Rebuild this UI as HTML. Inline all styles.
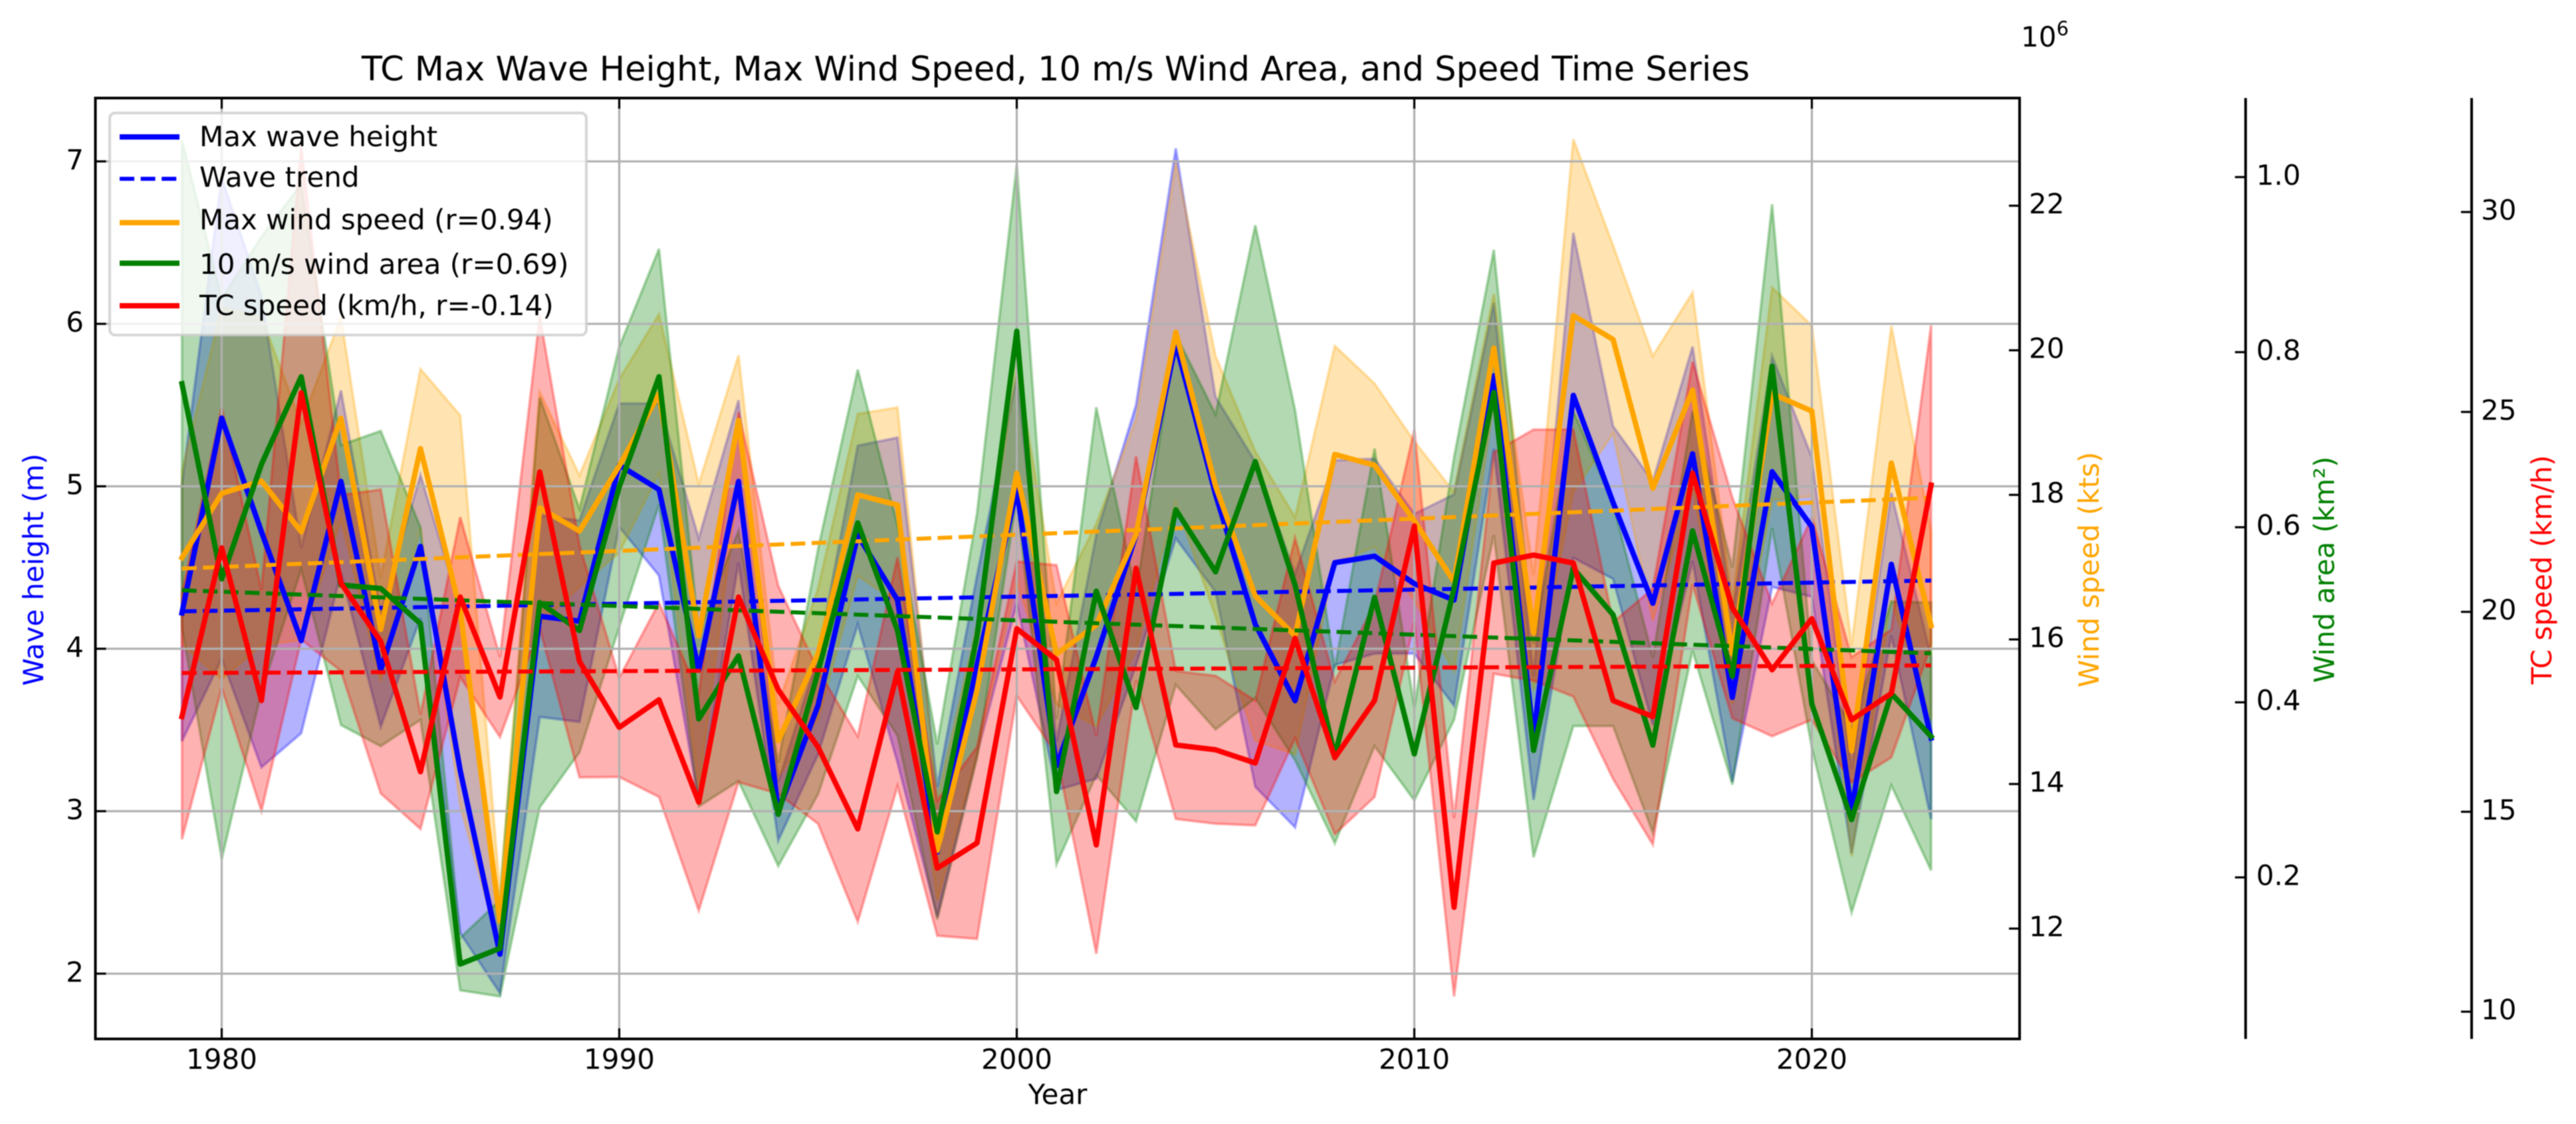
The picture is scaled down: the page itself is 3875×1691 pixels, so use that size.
<!DOCTYPE html>
<html lang="en">
<head>
<meta charset="utf-8">
<title>TC Max Wave Height, Max Wind Speed, 10 m/s Wind Area, and Speed Time Series</title>
<style>
html,body{margin:0;padding:0;background:#fff;}
svg{display:block;filter:blur(0.9px);}
text{font-family:"DejaVu Sans","Liberation Sans",sans-serif;fill:#000;}
</style>
</head>
<body>
<svg id="chart" xmlns="http://www.w3.org/2000/svg" width="3875" height="1691" viewBox="0 0 3875 1691">
  <rect x="0" y="0" width="3875" height="1691" fill="#fff"/>
  <g id="bands"></g>
  <g id="grid"></g>
  <g id="series"></g>
  <g id="axes"></g>
  <text x="1588" y="121" font-size="51" text-anchor="middle">TC Max Wave Height, Max Wind Speed, 10 m/s Wind Area, and Speed Time Series</text>
  <text x="1591" y="1661" font-size="42" text-anchor="middle">Year</text>
  <text transform="translate(65,857) rotate(-90)" font-size="42" text-anchor="middle" style="fill:#0000ff">Wave height (m)</text>
  <text transform="translate(3157,857) rotate(-90)" font-size="42" text-anchor="middle" style="fill:#ffa500">Wind speed (kts)</text>
  <text transform="translate(3511,857) rotate(-90)" font-size="42" text-anchor="middle" style="fill:#008000">Wind area (km²)</text>
  <text transform="translate(3838,857) rotate(-90)" font-size="42" text-anchor="middle" style="fill:#ff0000">TC speed (km/h)</text>
  <text x="3040" y="70" font-size="42">10<tspan dy="-17" font-size="29">6</tspan></text>
  <g>
    <rect x="165" y="170" width="717" height="334" rx="8" ry="8" fill="#fff" fill-opacity="0.8" stroke="#cccccc" stroke-opacity="0.8" stroke-width="4"/>
    <line x1="180" x2="270" y1="206" y2="206" stroke="#0000ff" stroke-width="8"/>
    <text x="300" y="220" font-size="42">Max wave height</text>
    <line x1="180" x2="270" y1="269" y2="269" stroke="#0000ff" stroke-width="6" stroke-dasharray="22 9.6"/>
    <text x="300" y="281" font-size="42">Wave trend</text>
    <line x1="180" x2="270" y1="335" y2="335" stroke="#ffa500" stroke-width="8"/>
    <text x="300" y="345" font-size="42">Max wind speed (r=0.94)</text>
    <line x1="180" x2="270" y1="396" y2="396" stroke="#008000" stroke-width="8"/>
    <text x="300" y="412" font-size="42">10 m/s wind area (r=0.69)</text>
    <line x1="180" x2="270" y1="460" y2="460" stroke="#ff0000" stroke-width="8"/>
    <text x="300" y="474" font-size="42">TC speed (km/h, r=-0.14)</text>
  </g>
</svg>
<script>
const firstYear = 1979;
const yearCount = 45;
const trendYears = [1979, 2023];

const waveMean = [4.22,5.42,4.72,4.05,5.03,3.87,4.63,3.25,2.12,4.2,4.17,5.13,4.98,3.87,5.03,3.0,3.65,4.7,4.3,2.75,3.9,4.98,3.28,3.95,4.7,5.88,4.95,4.15,3.68,4.53,4.57,4.4,4.3,5.68,3.45,5.56,4.9,4.28,5.2,3.7,5.09,4.75,3.0,4.52,3.45];
const waveStd = [.79,1.48,1.45,.57,.56,.35,.44,1.0,.24,.62,.62,.38,.53,.81,.5,.18,.3,.55,1.0,.4,.55,.7,.15,.75,.8,1.2,.6,1.0,.78,.63,.6,.43,.65,.45,.38,1.0,.47,.75,.66,.52,.71,.43,.26,.44,.5];
const waveTrend = [4.23, 4.42];

const windMean = [17.13,18.02,18.19,17.49,19.06,16.14,18.64,16.4,12.1,17.82,17.5,18.4,19.4,16.05,19.03,14.6,15.8,18.0,17.86,13.08,15.3,18.3,15.8,16.2,17.45,20.25,18.12,16.6,16.05,18.56,18.41,17.64,16.8,20.03,16.09,20.48,20.15,18.09,19.45,15.8,19.4,19.16,14.46,18.44,16.19];
const windStd = [1.2,2.57,2.27,1.5,1.4,.72,1.1,2.7,.4,1.6,.77,1.2,1.1,2.1,.9,.5,.9,1.12,1.35,.7,.9,1.5,.7,1.4,1.6,2.36,1.8,2.0,1.64,1.5,1.13,1.1,1.24,.75,.8,2.44,1.3,1.83,1.35,.7,1.47,1.18,1.46,1.9,1.3];
const windTrend = [16.98, 17.96];

const areaMean = [.764,.541,.672,.772,.534,.53,.49,.101,.119,.514,.482,.646,.772,.381,.453,.272,.435,.605,.482,.252,.476,.824,.298,.527,.394,.62,.549,.675,.534,.339,.52,.341,.53,.754,.345,.553,.5,.351,.596,.43,.784,.398,.266,.41,.361];
const areaStd = [.278,.32,.26,.22,.16,.18,.11,.03,.055,.234,.139,.16,.146,.1,.143,.059,.14,.175,.12,.1,.14,.19,.083,.21,.13,.2,.18,.27,.2,.1,.17,.053,.15,.163,.122,.18,.127,.1,.137,.124,.185,.05,.106,.105,.153];
const areaTrend = [.528, .456];

const speedMean = [17.38,21.6,17.78,25.48,20.72,19.26,16,20.37,17.87,23.5,18.76,17.11,17.8,15.24,20.37,18.05,16.62,14.57,18.5,13.59,14.22,19.58,18.8,14.17,21.09,16.67,16.55,16.22,19.34,16.35,17.78,22.15,12.61,21.22,21.42,21.22,17.78,17.38,23.47,20.1,18.55,19.83,17.3,17.96,23.17];
const speedStd = [3.07,3.5,2.76,6.17,2.2,3.8,1.43,2,1,3.9,2.9,1.24,2.43,2.71,4.63,2.6,1.92,2.32,2.86,1.69,2.4,1.68,2.37,2.72,2.8,1.85,1.85,1.56,2.5,1.91,2.41,2.4,2.23,2.77,3.14,3.34,1.96,3.2,2.79,2.76,1.66,2.53,1.57,1.6,4.0];
const speedTrend = [18.47, 18.66];

const xTicks = [1980, 1990, 2000, 2010, 2020];
const waveTicks = [2, 3, 4, 5, 6, 7];
const windTicks = [12, 14, 16, 18, 20, 22];
const areaTicks = ["0.2", "0.4", "0.6", "0.8", "1.0"];
const speedTicks = [10, 15, 20, 25, 30];

const NS = 'http://www.w3.org/2000/svg';
const plotLeft = 143.5, plotRight = 3038, plotTop = 147.5, plotBottom = 1563;
const xScale = y => 333.5 + (y - 1980) * 59.8;
const waveScale = v => 1464.8 - (v - 2) * 244.4;
const windScale = v => 1397 - (v - 12) * 108.75;
const areaScale = v => 1320 - (v - 0.2) * 1317;
const speedScale = v => 1522 - (v - 10) * 60.15;

function make(tag, attrs, parent) {
  const node = document.createElementNS(NS, tag);
  for (const k in attrs) node.setAttribute(k, attrs[k]);
  parent.appendChild(node);
  return node;
}

const bandLayer = document.getElementById('bands');
const gridLayer = document.getElementById('grid');
const seriesLayer = document.getElementById('series');
const axesLayer = document.getElementById('axes');

/* grid */
xTicks.forEach(t => {
  const g = make('line', {x1: xScale(t), x2: xScale(t), y1: plotTop, y2: plotBottom, stroke: '#b0b0b0', 'stroke-width': 3.2}, gridLayer);
  
  
});
waveTicks.forEach(t => {
  const g = make('line', {x1: plotLeft, x2: plotRight, y1: waveScale(t), y2: waveScale(t), stroke: '#b0b0b0', 'stroke-width': 3.2}, gridLayer);
  
  
});

/* series */
function drawSeries(key, color, mean, std, trend, scale) {
  const pts = mean.map((m, i) => [xScale(firstYear + i), m, std[i]]);
  const upper = pts.map(p => p[0].toFixed(1) + ',' + scale(p[1] + p[2]).toFixed(1));
  const lower = pts.map(p => p[0].toFixed(1) + ',' + scale(p[1] - p[2]).toFixed(1)).reverse();
  const band = make('polygon', {points: upper.concat(lower).join(' '), fill: color, 'fill-opacity': 0.3, stroke: color, 'stroke-opacity': 0.3, 'stroke-width': 4, 'stroke-linejoin': 'miter'}, bandLayer);
  
  

  const line = make('polyline', {points: pts.map(p => p[0].toFixed(1) + ',' + scale(p[1]).toFixed(1)).join(' '), fill: 'none', stroke: color, 'stroke-width': 8, 'stroke-linejoin': 'round', 'stroke-linecap': 'square'}, seriesLayer);
  
  

  const tr = make('line', {x1: xScale(trendYears[0]), x2: xScale(trendYears[1]), y1: scale(trend[0]), y2: scale(trend[1]), stroke: color, 'stroke-width': 6, 'stroke-dasharray': '22 9.6'}, seriesLayer);
  
  
}
drawSeries('wave-height', '#0000ff', waveMean, waveStd, waveTrend, waveScale);
drawSeries('wind-speed', '#ffa500', windMean, windStd, windTrend, windScale);
drawSeries('wind-area', '#008000', areaMean, areaStd, areaTrend, areaScale);
drawSeries('tc-speed', '#ff0000', speedMean, speedStd, speedTrend, speedScale);

/* frame */
const frame = make('rect', {x: plotLeft, y: plotTop, width: plotRight - plotLeft, height: plotBottom - plotTop, fill: 'none', stroke: '#000', 'stroke-width': 4}, axesLayer);



/* x ticks */
xTicks.forEach(t => {
  const bottom = make('line', {x1: xScale(t), x2: xScale(t), y1: plotBottom, y2: plotBottom - 16, stroke: '#000', 'stroke-width': 3.2}, axesLayer);
  
  
  const top = make('line', {x1: xScale(t), x2: xScale(t), y1: plotTop, y2: plotTop + 16, stroke: '#000', 'stroke-width': 3.2}, axesLayer);
  
  
  const label = make('text', {x: xScale(t), y: 1608, 'font-size': 42, 'text-anchor': 'middle'}, axesLayer);
  
  
  label.textContent = t;
});

/* wave-height axis (left) */
waveTicks.forEach(t => {
  const mark = make('line', {x1: plotLeft, x2: plotLeft + 16, y1: waveScale(t), y2: waveScale(t), stroke: '#000', 'stroke-width': 3.2}, axesLayer);
  
  
  const label = make('text', {x: 126, y: waveScale(t) + 12, 'font-size': 42, 'text-anchor': 'end'}, axesLayer);
  
  
  label.textContent = t;
});

/* right-hand axes */
function drawRightAxis(key, spineX, labelX, ticks, scale) {
  const spine = make('line', {x1: spineX, x2: spineX, y1: plotTop, y2: plotBottom, stroke: '#000', 'stroke-width': 4}, axesLayer);
  
  
  ticks.forEach(t => {
    const y = scale(parseFloat(t));
    const mark = make('line', {x1: spineX - 16, x2: spineX, y1: y, y2: y, stroke: '#000', 'stroke-width': 3.2}, axesLayer);
    
    
    const label = make('text', {x: labelX, y: y + 11.5, 'font-size': 42}, axesLayer);
    
    
    label.textContent = t;
  });
}
drawRightAxis('wind-speed', plotRight, 3052, windTicks, windScale);
drawRightAxis('wind-area', 3378, 3394, areaTicks, areaScale);
drawRightAxis('tc-speed', 3718, 3732, speedTicks, speedScale);
</script>
</body>
</html>
